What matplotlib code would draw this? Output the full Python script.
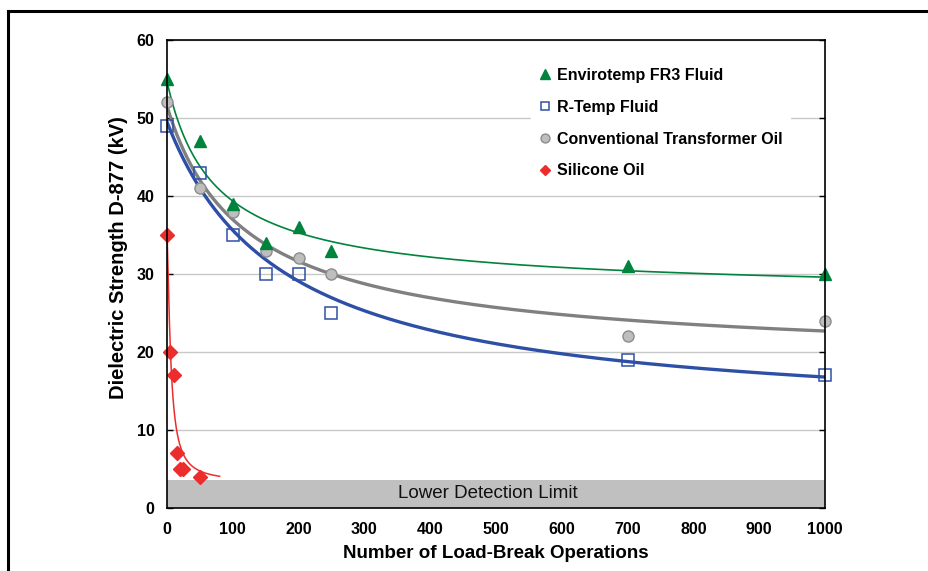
import numpy as np
import matplotlib
matplotlib.use("Agg")
import matplotlib.pyplot as plt
from matplotlib.lines import Line2D

# ---------------- data ----------------
ops_main = [0, 50, 100, 150, 200, 250, 700, 1000]
fr3 = [55, 47, 39, 34, 36, 33, 31, 30]
rtemp = [49, 43, 35, 30, 30, 25, 19, 17]
conventional = [52, 41, 38, 33, 32, 30, 22, 24]

ops_silicone = [0, 5, 10, 15, 20, 25, 50]
silicone = [35, 20, 17, 7, 5, 5, 4]

labels = ["Envirotemp FR3 Fluid", "R-Temp Fluid",
          "Conventional Transformer Oil", "Silicone Oil"]

x_ticks = list(range(0, 1001, 100))
y_ticks = list(range(0, 61, 10))
detection_limit = 3.6

# trend line parameters (c + A / (1 + x/k)^p)
trend_fr3 = (27.0, 27.7, 60.0, 0.824)
trend_rtemp = (11.0, 38.5, 177.0, 1.0)
trend_conv = (18.0, 33.5, 100.0, 0.82)
# silicone: c + A / (1 + (x/k)^q)
trend_sil = (3.3, 31.7, 5.7, 1.4)
sil_trend_end = 80

# ---------------- style ----------------
green = "#00843D"
blue = "#2E4FA6"
gray_line = "#808080"
gray_face = "#BEBEBE"
gray_edge = "#8C8C8C"
red = "#EC2D2D"

plt.rcParams["font.family"] = ["Liberation Sans", "DejaVu Sans"]

fig = plt.figure(figsize=(9.29, 5.71), dpi=100)
ax = fig.add_axes([167/929, 1-508/571, (825-167)/929, (508-40)/571])

def pw(x, c, A, k, p):
    return c + A / (1 + x / k) ** p

def hill(x, c, A, k, q):
    return c + A / (1 + (x / k) ** q)

xs = np.linspace(0, 1000, 600)
ax.plot(xs, pw(xs, *trend_fr3), color=green, lw=1.2, zorder=3)
ax.plot(xs, pw(xs, *trend_conv), color=gray_line, lw=2.4, zorder=3)
ax.plot(xs, pw(xs, *trend_rtemp), color=blue, lw=2.4, zorder=3)
xr = np.linspace(0, sil_trend_end, 400)
ax.plot(xr, hill(xr, *trend_sil), color=red, lw=1.1, zorder=3)

h1, = ax.plot(ops_main, fr3, ls="none", marker="^", ms=8.5, color=green,
              mec=green, clip_on=False, zorder=5, label=labels[0])
h2, = ax.plot(ops_main, rtemp, ls="none", marker="s", ms=8, mfc="none",
              mec=blue, mew=1.1, clip_on=False, zorder=5, label=labels[1])
h3, = ax.plot(ops_main, conventional, ls="none", marker="o", ms=8, mfc=gray_face,
              mec=gray_edge, mew=1.0, clip_on=False, zorder=4, label=labels[2])
h4, = ax.plot(ops_silicone, silicone, ls="none", marker="D", ms=7, color=red,
              mec=red, clip_on=False, zorder=5, label=labels[3])

# detection limit band
ax.axhspan(0, detection_limit, color="#C0C0C0", zorder=2, lw=0)
ax.text(488, detection_limit / 2 + 0.05, "Lower Detection Limit", ha="center",
        va="center", fontsize=13.5, color="#111111", zorder=6)

ax.set_xlim(0, 1000)
ax.set_ylim(0, 60)
ax.set_xticks(x_ticks)
ax.set_xticks(x_ticks[::2], minor=True)
ax.set_yticks(y_ticks)
ax.tick_params(axis="x", which="major", length=0, pad=10, labelsize=11.5)
ax.tick_params(axis="x", which="minor", direction="in", length=6, width=1.0,
               color="#333333")
ax.tick_params(axis="y", direction="in", length=4, width=1.0, right=True,
               pad=9, labelsize=11.5)
for lab in ax.get_xticklabels() + ax.get_yticklabels():
    lab.set_fontweight("bold")

ax.grid(axis="y", color="#C8C8C8", lw=1.0, zorder=0)
ax.set_axisbelow(True)
for s in ax.spines.values():
    s.set_color("black")
    s.set_linewidth(1.2)
    s.set_zorder(7)

ax.set_xlabel("Number of Load-Break Operations", fontsize=13.5, fontweight="bold")
ax.xaxis.set_label_coords(0.5, -0.078)
ax.set_ylabel("Dielectric Strength D-877 (kV)", fontsize=14.5, fontweight="bold")
ax.yaxis.set_label_coords(-0.059, 0.536)

leg = ax.legend(handles=[h1, h2, h3, h4], loc="upper left",
                bbox_to_anchor=((531-167)/658, (508-60)/468),
                borderaxespad=0, borderpad=0.5, handlelength=0.8,
                handletextpad=0.3, labelspacing=1.05, frameon=True,
                fancybox=False, framealpha=1, markerscale=0.8,
                prop={"size": 11.5, "weight": "bold"})
leg.get_frame().set_facecolor("white")
leg.get_frame().set_edgecolor("white")
leg.set_zorder(8)

# outer frame
fig.add_artist(Line2D([8/929, 1], [1-11/571, 1-11/571], transform=fig.transFigure,
                      color="black", lw=2.2))
fig.add_artist(Line2D([8/929, 8/929], [0, 1-11/571], transform=fig.transFigure,
                      color="black", lw=2.2))

fig.savefig("out.png", dpi=100)
